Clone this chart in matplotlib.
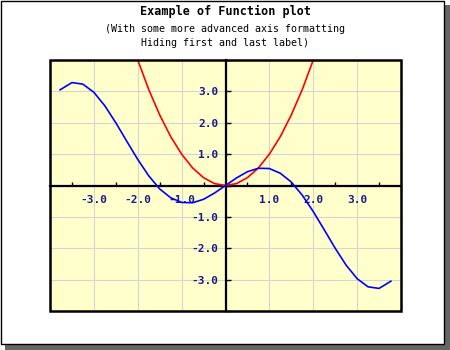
import matplotlib.pyplot as plt
from matplotlib.patches import Rectangle
from matplotlib.ticker import FuncFormatter, MultipleLocator

# blue curve
blue_x = [-3.77, -3.5, -3.25, -3.0, -2.75, -2.5, -2.25, -2.0, -1.75, -1.5, -1.25,
          -1.0, -0.75, -0.5, -0.25, 0.0, 0.25, 0.5, 0.75, 1.0, 1.25, 1.5, 1.75,
          2.0, 2.25, 2.5, 2.75, 3.0, 3.25, 3.5, 3.77]
blue_y = [3.05, 3.28, 3.23, 2.97, 2.54, 2.0, 1.41, 0.83, 0.31, -0.11, -0.39,
          -0.54, -0.55, -0.44, -0.24, 0.0, 0.24, 0.44, 0.55, 0.54, 0.39, 0.11, -0.31,
          -0.83, -1.41, -2.0, -2.54, -2.97, -3.23, -3.28, -3.05]

# red curve
red_x = [-2.0, -1.75, -1.5, -1.25, -1.0, -0.75, -0.5, -0.25, 0.0,
         0.25, 0.5, 0.75, 1.0, 1.25, 1.5, 1.75, 2.0]
red_y = [4.0, 3.06, 2.25, 1.56, 1.0, 0.56, 0.25, 0.06, 0.0,
         0.06, 0.25, 0.56, 1.0, 1.56, 2.25, 3.06, 4.0]

title = "Example of Function plot"
subtitle = "(With some more advanced axis formatting\nHiding first and last label)"

W, H = 450, 350
fig = plt.figure(figsize=(4.5, 3.5), dpi=100)
fig.patch.set_facecolor('white')

# drop shadow + white frame
fig.patches.append(Rectangle((5 / W, 0), 1 - 5 / W, 1 - 5 / H, transform=fig.transFigure,
                             facecolor='#666666', edgecolor='none', zorder=-3))
fig.patches.append(Rectangle((0.5 / W, 6 / H), 443 / W, 343 / H, transform=fig.transFigure,
                             facecolor='white', edgecolor='black', linewidth=1, zorder=-2))

fig.text(0.5, 1 - 11 / H, title, ha='center', va='center', fontsize=8.5,
         fontweight='bold', family='DejaVu Sans Mono')
fig.text(0.5, 1 - 36 / H, subtitle, ha='center', va='center', fontsize=7.2,
         family='DejaVu Sans Mono', linespacing=1.45)

ax = fig.add_axes([50 / W, 1 - 311 / H, 351 / W, 251 / H])
ax.set_facecolor('#ffffcc')
ax.set_xlim(-4, 4)
ax.set_ylim(-4, 4)

ax.plot(red_x, red_y, color='#ff0000', lw=1.2, zorder=3)
ax.plot(blue_x, blue_y, color='#0000ff', lw=1.2, zorder=3)

# axes through zero
ax.spines['left'].set_position('zero')
ax.spines['bottom'].set_position('zero')
ax.spines['left'].set_linewidth(1.6)
ax.spines['bottom'].set_linewidth(1.6)
ax.spines['top'].set_visible(False)
ax.spines['right'].set_visible(False)
ax.add_patch(Rectangle((0, 0), 1, 1, transform=ax.transAxes, fill=False,
                       edgecolor='black', linewidth=1.8, clip_on=False, zorder=5))

ax.xaxis.set_major_locator(MultipleLocator(1))
ax.xaxis.set_minor_locator(MultipleLocator(0.5))
ax.yaxis.set_major_locator(MultipleLocator(1))


def fmt(v, pos):
    if abs(v) < 1e-9 or abs(abs(v) - 4) < 1e-9:
        return ''
    return '%.1f' % v


ax.xaxis.set_major_formatter(FuncFormatter(fmt))
ax.yaxis.set_major_formatter(FuncFormatter(fmt))
ax.tick_params(which='both', direction='in', width=1, color='black')
ax.tick_params(axis='x', which='major', length=0, pad=7)
ax.tick_params(axis='x', which='minor', length=3)
ax.tick_params(axis='y', which='major', length=3.6, pad=5)
for lab in ax.get_xticklabels() + ax.get_yticklabels():
    lab.set_family('DejaVu Sans Mono')
    lab.set_fontweight('bold')
    lab.set_fontsize(8)
    lab.set_color('#1a1a8c')

ax.grid(True, which='major', color='#d4d4d4', linewidth=0.8)
ax.set_axisbelow(True)

fig.savefig('out.png', dpi=100)
